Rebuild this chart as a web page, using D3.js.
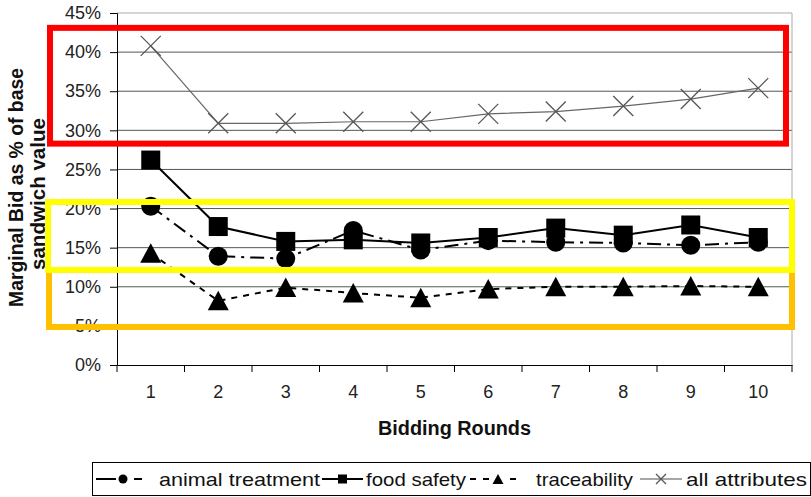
<!DOCTYPE html>
<html>
<head>
<meta charset="utf-8">
<script src="https://cdn.jsdelivr.net/npm/d3@7"></script>
<style>
html,body{margin:0;padding:0;background:#fff;}
svg{display:block;font-family:"Liberation Sans",Arial,sans-serif;}
</style>
</head>
<body>
<svg id="chart" width="811" height="497"></svg>
<script>
// ---- data ----
const rounds = ["1","2","3","4","5","6","7","8","9","10"];
const animalTreatment = [20.3, 13.9, 13.6, 17.2, 14.7, 15.9, 15.7, 15.6, 15.3, 15.7];
const foodSafety      = [26.2, 17.7, 15.8, 16.0, 15.6, 16.3, 17.5, 16.6, 17.9, 16.3];
const traceability    = [14.3,  8.2,  9.9,  9.2,  8.6,  9.7, 10.0, 10.0, 10.1, 10.0];
const allAttributes   = [40.8, 30.9, 30.9, 31.1, 31.1, 32.1, 32.4, 33.1, 34.0, 35.4];
const yTicks = [0,5,10,15,20,25,30,35,40,45];
const seriesNames = ["animal treatment","food safety","traceability","all attributes"];
// highlight boxes (value range on y axis)
const boxRed    = [43.1, 28.3];
const boxOrange = [12.15, 4.86];
const boxYellow = [20.84, 12.15];

const svg = d3.select("#chart");
const L = 117, R = 792, T = 13, B = 365;
const x = d3.scaleBand().domain(rounds).range([L, R]);
const y = d3.scaleLinear().domain([0, 45]).range([B, T]);

// gridlines
svg.append("g").selectAll("line").data(yTicks.filter(d => d > 0 && d < 45)).join("line")
  .attr("x1", L).attr("x2", R).attr("y1", d => y(d)).attr("y2", d => y(d))
  .attr("stroke", "#555").attr("stroke-width", 1);
// top & right border
svg.append("line").attr("x1", L).attr("x2", R).attr("y1", y(45)).attr("y2", y(45))
  .attr("stroke", "#aaa").attr("stroke-width", 1);
svg.append("line").attr("x1", R).attr("x2", R).attr("y1", y(45)).attr("y2", B)
  .attr("stroke", "#aaa").attr("stroke-width", 1);

// y axis
const yAxis = d3.axisLeft(y).tickValues(yTicks).tickFormat(d => d + "%").tickSizeOuter(0).tickSize(7).tickPadding(9);
const gy = svg.append("g").attr("transform", `translate(${L},0)`).call(yAxis);
gy.select(".domain").attr("stroke", "#000");
gy.selectAll(".tick line").attr("stroke", "#000");
gy.selectAll("text").attr("font-size", 18).attr("fill", "#222").attr("font-family", "Liberation Sans, Arial, sans-serif");

// x axis
const xAxis = d3.axisBottom(x).tickSize(0).tickPadding(20);
const gx = svg.append("g").attr("transform", `translate(0,${B})`).call(xAxis);
gx.select(".domain").attr("stroke", "#000");
gx.selectAll("text").attr("font-size", 18).attr("fill", "#222").attr("font-family", "Liberation Sans, Arial, sans-serif");
// boundary ticks
const bounds = rounds.map(r => x(r)).concat([x(rounds[rounds.length-1]) + x.bandwidth()]);
svg.append("g").selectAll("line").data(bounds).join("line")
  .attr("x1", d => d).attr("x2", d => d).attr("y1", B).attr("y2", B + 7)
  .attr("stroke", "#000");

const cx = (d, i) => x(rounds[i]) + x.bandwidth() / 2;
const line = d3.line().x((d, i) => cx(d, i)).y(d => y(d));

// all attributes
svg.append("path").datum(allAttributes).attr("d", line)
  .attr("fill", "none").attr("stroke", "#666").attr("stroke-width", 1.2);
svg.append("g").selectAll("path").data(allAttributes).join("path")
  .attr("transform", (d, i) => `translate(${cx(d, i)},${y(d)})`)
  .attr("d", "M-10,-10L10,10M-10,10L10,-10")
  .attr("stroke", "#555").attr("stroke-width", 1.3).attr("fill", "none");

// animal treatment
svg.append("path").datum(animalTreatment).attr("d", line)
  .attr("fill", "none").attr("stroke", "#000").attr("stroke-width", 2)
  .attr("stroke-dasharray", "14,6,3,6");
// food safety
svg.append("path").datum(foodSafety).attr("d", line)
  .attr("fill", "none").attr("stroke", "#000").attr("stroke-width", 2);
// traceability
svg.append("path").datum(traceability).attr("d", line)
  .attr("fill", "none").attr("stroke", "#000").attr("stroke-width", 2)
  .attr("stroke-dasharray", "6,6");

svg.append("g").selectAll("circle").data(animalTreatment).join("circle")
  .attr("cx", (d, i) => cx(d, i)).attr("cy", d => y(d)).attr("r", 9.5).attr("fill", "#000");
svg.append("g").selectAll("rect").data(foodSafety).join("rect")
  .attr("x", (d, i) => cx(d, i) - 9.5).attr("y", d => y(d) - 9.5)
  .attr("width", 19).attr("height", 19).attr("fill", "#000");
svg.append("g").selectAll("path").data(traceability).join("path")
  .attr("transform", (d, i) => `translate(${cx(d, i)},${y(d)})`)
  .attr("d", "M0,-10L10.5,9.5L-10.5,9.5Z").attr("fill", "#000");

// axis titles
svg.append("text").attr("x", (L + R) / 2).attr("y", 435).attr("text-anchor", "middle")
  .attr("font-weight", "bold").attr("font-size", 20).attr("fill", "#111")
  .attr("textLength", 153).attr("lengthAdjust", "spacingAndGlyphs").text("Bidding Rounds");
const yt = svg.append("g").attr("transform", "translate(22.5,187.5) rotate(-90)");
yt.append("text").attr("x", 0).attr("y", 0).attr("text-anchor", "middle")
  .attr("font-weight", "bold").attr("font-size", 21).attr("fill", "#111")
  .attr("textLength", 239).attr("lengthAdjust", "spacingAndGlyphs").text("Marginal Bid as % of base");
svg.append("g").attr("transform", "translate(45,194) rotate(-90)")
  .append("text").attr("text-anchor", "middle")
  .attr("font-weight", "bold").attr("font-size", 21).attr("fill", "#111")
  .attr("textLength", 152).attr("lengthAdjust", "spacingAndGlyphs").text("sandwich value");

// legend
const lg = svg.append("g");
lg.append("rect").attr("x", 92.5).attr("y", 462.5).attr("width", 718).attr("height", 33)
  .attr("fill", "#fff").attr("stroke", "#000").attr("stroke-width", 1);
const ly = 479;
// animal treatment symbol
lg.append("line").attr("x1", 96).attr("x2", 116).attr("y1", ly).attr("y2", ly).attr("stroke", "#000").attr("stroke-width", 2);
lg.append("circle").attr("cx", 123).attr("cy", ly).attr("r", 4.5).attr("fill", "#000");
lg.append("line").attr("x1", 134).attr("x2", 142).attr("y1", ly).attr("y2", ly).attr("stroke", "#000").attr("stroke-width", 2);
// food safety symbol
lg.append("line").attr("x1", 322).attr("x2", 363).attr("y1", ly).attr("y2", ly).attr("stroke", "#000").attr("stroke-width", 2);
lg.append("rect").attr("x", 338).attr("y", ly - 4.5).attr("width", 9).attr("height", 9).attr("fill", "#000");
// traceability symbol
[[470,476],[483,489],[510,516]].forEach(s => lg.append("line").attr("x1", s[0]).attr("x2", s[1]).attr("y1", ly).attr("y2", ly).attr("stroke", "#000").attr("stroke-width", 2));
lg.append("path").attr("transform", `translate(498,${ly})`).attr("d", "M0,-5L5.5,5L-5.5,5Z").attr("fill", "#000");
// all attributes symbol
lg.append("line").attr("x1", 640).attr("x2", 682).attr("y1", ly).attr("y2", ly).attr("stroke", "#888").attr("stroke-width", 1.3);
lg.append("path").attr("transform", `translate(661,${ly})`).attr("d", "M-5,-5L5,5M-5,5L5,-5").attr("stroke", "#555").attr("stroke-width", 1.3);
const legTexts = [[159, 161], [366, 100], [536, 97], [686, 121]];
seriesNames.forEach((n, i) => {
  lg.append("text").attr("x", legTexts[i][0]).attr("y", 486).attr("font-size", 19).attr("fill", "#111")
    .attr("textLength", legTexts[i][1]).attr("lengthAdjust", "spacingAndGlyphs").text(n);
});

// highlight boxes
function box(vals, x0, x1, color) {
  svg.append("rect").attr("x", x0).attr("y", y(vals[0])).attr("width", x1 - x0)
    .attr("height", y(vals[1]) - y(vals[0])).attr("fill", "none")
    .attr("stroke", color).attr("stroke-width", 6);
}
box(boxRed, 50, 786, "#ff0000");
box(boxOrange, 49, 792, "#ffc000");
box(boxYellow, 48, 792, "#ffff00");
</script>
</body>
</html>
